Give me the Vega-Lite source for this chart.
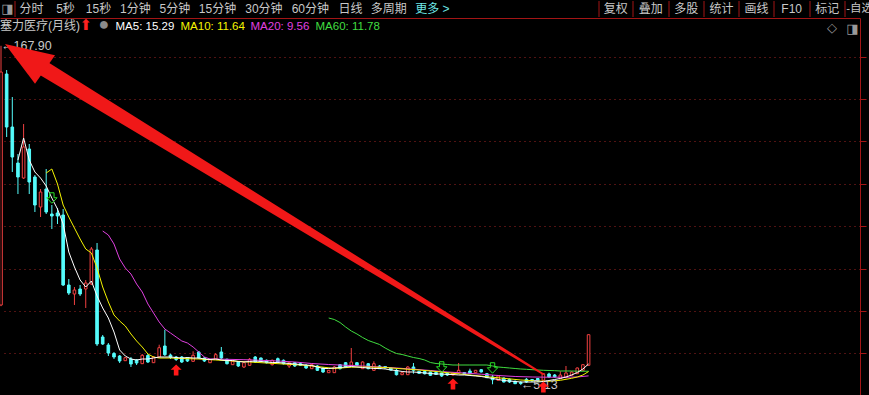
{
  "$schema": "https://vega.github.io/schema/vega-lite/v6.json",
  "background": "#000000",
  "padding": 0,
  "spacing": 0,
  "config": {
    "view": {"stroke": null},
    "font": "Liberation Sans, Noto Sans CJK SC, DejaVu Sans"
  },
  "datasets": {
    "candles": [
      {"i":0,"o":43.56,"h":167.9,"l":43.0,"c":155.33},
      {"i":1,"o":154.37,"h":156.29,"l":124.15,"c":128.94},
      {"i":2,"o":128.94,"h":143.33,"l":107.36,"c":114.55},
      {"i":3,"o":111.67,"h":115.99,"l":96.8,"c":104.96},
      {"i":4,"o":104.48,"h":130.38,"l":104.0,"c":119.35},
      {"i":5,"o":118.39,"h":120.79,"l":96.8,"c":102.56},
      {"i":6,"o":104.96,"h":105.92,"l":88.17,"c":91.53},
      {"i":7,"o":90.57,"h":99.2,"l":85.77,"c":97.76},
      {"i":8,"o":99.2,"h":108.8,"l":87.21,"c":88.17},
      {"i":9,"o":87.21,"h":91.53,"l":80.01,"c":86.25},
      {"i":10,"o":87.69,"h":90.09,"l":82.41,"c":86.25},
      {"i":11,"o":86.73,"h":89.61,"l":52.67,"c":53.15},
      {"i":12,"o":53.15,"h":56.03,"l":48.35,"c":49.31},
      {"i":13,"o":48.83,"h":52.19,"l":43.56,"c":50.75},
      {"i":14,"o":51.23,"h":53.15,"l":47.87,"c":48.83},
      {"i":15,"o":51.23,"h":55.55,"l":42.12,"c":54.11},
      {"i":16,"o":53.63,"h":71.38,"l":53.15,"c":70.42},
      {"i":17,"o":69.94,"h":73.3,"l":23.89,"c":24.85},
      {"i":18,"o":28.21,"h":29.17,"l":24.37,"c":24.85},
      {"i":19,"o":24.37,"h":25.33,"l":19.09,"c":20.53},
      {"i":20,"o":20.29,"h":21.01,"l":17.65,"c":18.61},
      {"i":21,"o":19.09,"h":19.57,"l":15.73,"c":16.69},
      {"i":22,"o":16.84,"h":18.37,"l":16.69,"c":18.28},
      {"i":23,"o":17.65,"h":18.61,"l":13.82,"c":15.25},
      {"i":24,"o":17.17,"h":17.65,"l":14.77,"c":15.73},
      {"i":25,"o":15.4,"h":20.05,"l":15.25,"c":19.43},
      {"i":26,"o":19.33,"h":20.05,"l":15.73,"c":16.21},
      {"i":27,"o":15.88,"h":19.09,"l":15.73,"c":18.61},
      {"i":28,"o":18.61,"h":24.51,"l":18.13,"c":23.07},
      {"i":29,"o":23.89,"h":31.71,"l":19.09,"c":19.72},
      {"i":30,"o":19.57,"h":20.2,"l":17.65,"c":18.37},
      {"i":31,"o":18.61,"h":19.09,"l":16.69,"c":17.41},
      {"i":32,"o":18.61,"h":19.09,"l":15.73,"c":16.21},
      {"i":33,"o":18.13,"h":18.61,"l":16.21,"c":16.69},
      {"i":34,"o":16.55,"h":21.35,"l":16.21,"c":19.43},
      {"i":35,"o":21.01,"h":21.49,"l":17.65,"c":18.13},
      {"i":36,"o":18.13,"h":18.61,"l":16.21,"c":16.69},
      {"i":37,"o":15.88,"h":17.65,"l":15.73,"c":17.51},
      {"i":38,"o":17.51,"h":20.53,"l":17.17,"c":19.72},
      {"i":39,"o":21.01,"h":23.41,"l":17.51,"c":18.13},
      {"i":40,"o":17.51,"h":17.89,"l":15.01,"c":15.4},
      {"i":41,"o":14.92,"h":16.69,"l":14.77,"c":16.55},
      {"i":42,"o":16.21,"h":16.45,"l":13.82,"c":14.3},
      {"i":43,"o":13.82,"h":16.21,"l":13.34,"c":15.88},
      {"i":44,"o":14.63,"h":18.13,"l":14.3,"c":17.51},
      {"i":45,"o":18.61,"h":19.09,"l":15.73,"c":16.21},
      {"i":46,"o":18.13,"h":18.37,"l":16.21,"c":16.55},
      {"i":47,"o":17.03,"h":17.41,"l":15.49,"c":15.88},
      {"i":48,"o":14.92,"h":17.41,"l":14.53,"c":17.03},
      {"i":49,"o":17.8,"h":18.37,"l":15.73,"c":16.21},
      {"i":50,"o":17.03,"h":17.41,"l":15.01,"c":15.4},
      {"i":51,"o":14.3,"h":15.97,"l":13.34,"c":15.88},
      {"i":52,"o":15.88,"h":16.21,"l":13.82,"c":14.3},
      {"i":53,"o":15.4,"h":15.73,"l":14.3,"c":14.63},
      {"i":54,"o":14.63,"h":15.25,"l":12.86,"c":13.34},
      {"i":55,"o":13.0,"h":15.25,"l":12.86,"c":14.92},
      {"i":56,"o":14.3,"h":14.77,"l":11.9,"c":12.23},
      {"i":57,"o":13.34,"h":13.82,"l":10.94,"c":11.42},
      {"i":58,"o":11.08,"h":12.38,"l":10.94,"c":12.23},
      {"i":59,"o":11.08,"h":14.3,"l":10.94,"c":13.82},
      {"i":60,"o":14.92,"h":15.25,"l":12.62,"c":13.0},
      {"i":61,"o":15.88,"h":16.21,"l":13.34,"c":13.82},
      {"i":62,"o":14.63,"h":22.93,"l":14.3,"c":16.21},
      {"i":63,"o":15.88,"h":16.21,"l":14.3,"c":14.63},
      {"i":64,"o":13.0,"h":16.55,"l":12.86,"c":16.21},
      {"i":65,"o":15.4,"h":15.73,"l":12.71,"c":13.0},
      {"i":66,"o":12.23,"h":16.55,"l":11.9,"c":15.4},
      {"i":67,"o":14.3,"h":14.77,"l":12.86,"c":13.0},
      {"i":68,"o":14.06,"h":14.3,"l":13.1,"c":13.34},
      {"i":69,"o":13.34,"h":13.58,"l":12.14,"c":12.38},
      {"i":70,"o":12.23,"h":12.86,"l":9.74,"c":10.12},
      {"i":71,"o":10.12,"h":11.42,"l":9.98,"c":11.08},
      {"i":72,"o":10.12,"h":14.3,"l":9.98,"c":13.82},
      {"i":73,"o":13.82,"h":15.73,"l":10.6,"c":12.23},
      {"i":74,"o":11.75,"h":11.9,"l":10.46,"c":10.79},
      {"i":75,"o":11.66,"h":11.9,"l":10.22,"c":10.6},
      {"i":76,"o":11.42,"h":11.66,"l":9.5,"c":9.83},
      {"i":77,"o":11.18,"h":11.42,"l":9.98,"c":10.22},
      {"i":78,"o":10.94,"h":11.18,"l":9.02,"c":9.5},
      {"i":79,"o":10.94,"h":11.42,"l":9.5,"c":9.98},
      {"i":80,"o":9.98,"h":11.18,"l":9.74,"c":10.94},
      {"i":81,"o":10.94,"h":15.73,"l":10.6,"c":12.23},
      {"i":82,"o":11.18,"h":11.42,"l":10.22,"c":10.46},
      {"i":83,"o":11.9,"h":13.0,"l":10.46,"c":10.6},
      {"i":84,"o":11.08,"h":12.38,"l":10.94,"c":12.23},
      {"i":85,"o":12.52,"h":12.86,"l":11.18,"c":11.42},
      {"i":86,"o":10.6,"h":10.94,"l":8.54,"c":8.68},
      {"i":87,"o":9.02,"h":9.98,"l":5.52,"c":7.72},
      {"i":88,"o":7.44,"h":9.74,"l":7.24,"c":9.5},
      {"i":89,"o":8.54,"h":8.78,"l":6.38,"c":6.62},
      {"i":90,"o":7.92,"h":8.3,"l":6.14,"c":6.62},
      {"i":91,"o":6.96,"h":7.34,"l":5.66,"c":5.8},
      {"i":92,"o":6.38,"h":7.1,"l":5.13,"c":5.9},
      {"i":93,"o":7.92,"h":8.54,"l":6.14,"c":6.62},
      {"i":94,"o":7.82,"h":8.06,"l":6.86,"c":7.1},
      {"i":95,"o":8.3,"h":8.54,"l":6.62,"c":7.1},
      {"i":96,"o":7.44,"h":10.94,"l":7.1,"c":10.6},
      {"i":97,"o":10.46,"h":11.08,"l":8.54,"c":9.02},
      {"i":98,"o":9.98,"h":10.46,"l":8.78,"c":9.02},
      {"i":99,"o":8.2,"h":11.75,"l":8.06,"c":9.98},
      {"i":100,"o":8.68,"h":14.3,"l":8.54,"c":10.94},
      {"i":101,"o":9.83,"h":11.9,"l":9.74,"c":11.42},
      {"i":102,"o":10.6,"h":13.58,"l":10.46,"c":13.34},
      {"i":103,"o":12.23,"h":15.25,"l":12.14,"c":14.92},
      {"i":104,"o":14.63,"h":29.31,"l":14.53,"c":29.31}
    ],
    "ma": [
      {"ma":"MA60","i":58,"v":37.32},{"ma":"MA60","i":59,"v":36.6},{"ma":"MA60","i":60,"v":35.16},{"ma":"MA60","i":61,"v":33.0},{"ma":"MA60","i":62,"v":31.08},{"ma":"MA60","i":63,"v":29.65},{"ma":"MA60","i":64,"v":27.97},{"ma":"MA60","i":65,"v":26.53},{"ma":"MA60","i":66,"v":25.57},{"ma":"MA60","i":67,"v":24.61},{"ma":"MA60","i":68,"v":22.93},{"ma":"MA60","i":69,"v":21.49},{"ma":"MA60","i":70,"v":20.29},{"ma":"MA60","i":71,"v":19.81},{"ma":"MA60","i":72,"v":19.09},{"ma":"MA60","i":73,"v":18.37},{"ma":"MA60","i":74,"v":17.89},{"ma":"MA60","i":75,"v":17.17},{"ma":"MA60","i":76,"v":15.97},{"ma":"MA60","i":77,"v":15.49},{"ma":"MA60","i":78,"v":15.25},{"ma":"MA60","i":79,"v":15.01},{"ma":"MA60","i":80,"v":14.77},{"ma":"MA60","i":83,"v":14.77},{"ma":"MA60","i":86,"v":14.77},{"ma":"MA60","i":87,"v":14.3},{"ma":"MA60","i":88,"v":13.82},{"ma":"MA60","i":89,"v":13.58},{"ma":"MA60","i":90,"v":13.34},{"ma":"MA60","i":91,"v":13.1},{"ma":"MA60","i":92,"v":12.86},{"ma":"MA60","i":93,"v":12.71},{"ma":"MA60","i":94,"v":12.52},{"ma":"MA60","i":95,"v":12.38},{"ma":"MA60","i":96,"v":12.23},{"ma":"MA60","i":97,"v":12.14},{"ma":"MA60","i":98,"v":12.04},{"ma":"MA60","i":99,"v":11.9},{"ma":"MA60","i":101,"v":11.9},{"ma":"MA60","i":102,"v":11.8},{"ma":"MA60","i":104,"v":11.78},
      {"ma":"MA20","i":18,"v":79.05},{"ma":"MA20","i":19,"v":77.14},{"ma":"MA20","i":20,"v":72.82},{"ma":"MA20","i":21,"v":65.62},{"ma":"MA20","i":22,"v":61.31},{"ma":"MA20","i":23,"v":58.43},{"ma":"MA20","i":24,"v":53.63},{"ma":"MA20","i":25,"v":49.79},{"ma":"MA20","i":26,"v":44.04},{"ma":"MA20","i":27,"v":39.72},{"ma":"MA20","i":28,"v":35.4},{"ma":"MA20","i":29,"v":32.04},{"ma":"MA20","i":30,"v":30.13},{"ma":"MA20","i":31,"v":28.21},{"ma":"MA20","i":32,"v":26.29},{"ma":"MA20","i":33,"v":25.33},{"ma":"MA20","i":34,"v":23.41},{"ma":"MA20","i":35,"v":21.01},{"ma":"MA20","i":36,"v":18.61},{"ma":"MA20","i":37,"v":17.65},{"ma":"MA20","i":38,"v":17.65},{"ma":"MA20","i":40,"v":17.51},{"ma":"MA20","i":43,"v":17.32},{"ma":"MA20","i":46,"v":17.03},{"ma":"MA20","i":49,"v":16.69},{"ma":"MA20","i":52,"v":16.21},{"ma":"MA20","i":55,"v":15.49},{"ma":"MA20","i":58,"v":15.01},{"ma":"MA20","i":61,"v":14.63},{"ma":"MA20","i":64,"v":14.3},{"ma":"MA20","i":67,"v":13.82},{"ma":"MA20","i":70,"v":13.34},{"ma":"MA20","i":73,"v":12.76},{"ma":"MA20","i":76,"v":12.14},{"ma":"MA20","i":79,"v":11.42},{"ma":"MA20","i":82,"v":10.94},{"ma":"MA20","i":85,"v":10.36},{"ma":"MA20","i":88,"v":9.74},{"ma":"MA20","i":91,"v":9.26},{"ma":"MA20","i":94,"v":9.02},{"ma":"MA20","i":97,"v":8.92},{"ma":"MA20","i":100,"v":8.92},{"ma":"MA20","i":102,"v":9.02},{"ma":"MA20","i":104,"v":9.56},
      {"ma":"MA10","i":8,"v":106.88},{"ma":"MA10","i":9,"v":108.8},{"ma":"MA10","i":10,"v":101.6},{"ma":"MA10","i":11,"v":91.53},{"ma":"MA10","i":12,"v":85.77},{"ma":"MA10","i":13,"v":80.49},{"ma":"MA10","i":14,"v":75.22},{"ma":"MA10","i":15,"v":70.42},{"ma":"MA10","i":16,"v":68.5},{"ma":"MA10","i":17,"v":61.31},{"ma":"MA10","i":18,"v":52.19},{"ma":"MA10","i":19,"v":45.0},{"ma":"MA10","i":20,"v":38.76},{"ma":"MA10","i":21,"v":35.88},{"ma":"MA10","i":22,"v":33.48},{"ma":"MA10","i":23,"v":29.65},{"ma":"MA10","i":24,"v":26.29},{"ma":"MA10","i":25,"v":23.41},{"ma":"MA10","i":26,"v":20.05},{"ma":"MA10","i":27,"v":18.61},{"ma":"MA10","i":28,"v":18.13},{"ma":"MA10","i":30,"v":18.13},{"ma":"MA10","i":32,"v":17.89},{"ma":"MA10","i":35,"v":17.65},{"ma":"MA10","i":38,"v":17.17},{"ma":"MA10","i":41,"v":16.69},{"ma":"MA10","i":44,"v":16.21},{"ma":"MA10","i":47,"v":15.73},{"ma":"MA10","i":50,"v":15.25},{"ma":"MA10","i":53,"v":14.77},{"ma":"MA10","i":56,"v":14.06},{"ma":"MA10","i":59,"v":13.1},{"ma":"MA10","i":62,"v":13.72},{"ma":"MA10","i":65,"v":13.82},{"ma":"MA10","i":68,"v":13.58},{"ma":"MA10","i":71,"v":12.95},{"ma":"MA10","i":74,"v":12.38},{"ma":"MA10","i":77,"v":11.66},{"ma":"MA10","i":80,"v":10.79},{"ma":"MA10","i":83,"v":9.98},{"ma":"MA10","i":86,"v":9.16},{"ma":"MA10","i":89,"v":8.39},{"ma":"MA10","i":92,"v":7.58},{"ma":"MA10","i":95,"v":7.1},{"ma":"MA10","i":97,"v":6.96},{"ma":"MA10","i":99,"v":7.44},{"ma":"MA10","i":101,"v":8.39},{"ma":"MA10","i":102,"v":9.02},{"ma":"MA10","i":103,"v":9.98},{"ma":"MA10","i":104,"v":11.64},
      {"ma":"MA5","i":3,"v":113.11},{"ma":"MA5","i":4,"v":123.67},{"ma":"MA5","i":5,"v":113.11},{"ma":"MA5","i":6,"v":107.36},{"ma":"MA5","i":7,"v":104.48},{"ma":"MA5","i":8,"v":100.64},{"ma":"MA5","i":9,"v":94.88},{"ma":"MA5","i":10,"v":89.61},{"ma":"MA5","i":11,"v":82.41},{"ma":"MA5","i":12,"v":68.98},{"ma":"MA5","i":13,"v":61.79},{"ma":"MA5","i":14,"v":55.55},{"ma":"MA5","i":15,"v":52.19},{"ma":"MA5","i":16,"v":55.07},{"ma":"MA5","i":17,"v":47.87},{"ma":"MA5","i":18,"v":42.12},{"ma":"MA5","i":19,"v":37.32},{"ma":"MA5","i":20,"v":30.6},{"ma":"MA5","i":21,"v":21.97},{"ma":"MA5","i":22,"v":19.09},{"ma":"MA5","i":23,"v":17.65},{"ma":"MA5","i":24,"v":17.17},{"ma":"MA5","i":25,"v":17.65},{"ma":"MA5","i":26,"v":17.65},{"ma":"MA5","i":27,"v":18.13},{"ma":"MA5","i":28,"v":18.61},{"ma":"MA5","i":29,"v":18.61},{"ma":"MA5","i":30,"v":18.61},{"ma":"MA5","i":31,"v":18.37},{"ma":"MA5","i":32,"v":18.13},{"ma":"MA5","i":33,"v":18.37},{"ma":"MA5","i":34,"v":18.13},{"ma":"MA5","i":35,"v":18.13},{"ma":"MA5","i":36,"v":17.65},{"ma":"MA5","i":37,"v":17.41},{"ma":"MA5","i":38,"v":17.65},{"ma":"MA5","i":39,"v":17.17},{"ma":"MA5","i":40,"v":16.93},{"ma":"MA5","i":41,"v":16.93},{"ma":"MA5","i":42,"v":16.45},{"ma":"MA5","i":43,"v":16.21},{"ma":"MA5","i":44,"v":16.45},{"ma":"MA5","i":45,"v":16.69},{"ma":"MA5","i":46,"v":16.45},{"ma":"MA5","i":47,"v":16.21},{"ma":"MA5","i":48,"v":15.97},{"ma":"MA5","i":49,"v":15.97},{"ma":"MA5","i":50,"v":15.73},{"ma":"MA5","i":51,"v":15.49},{"ma":"MA5","i":52,"v":15.25},{"ma":"MA5","i":53,"v":15.01},{"ma":"MA5","i":54,"v":14.77},{"ma":"MA5","i":55,"v":14.53},{"ma":"MA5","i":56,"v":13.82},{"ma":"MA5","i":57,"v":13.1},{"ma":"MA5","i":58,"v":13.1},{"ma":"MA5","i":59,"v":13.34},{"ma":"MA5","i":60,"v":13.58},{"ma":"MA5","i":61,"v":13.82},{"ma":"MA5","i":62,"v":14.06},{"ma":"MA5","i":63,"v":13.82},{"ma":"MA5","i":64,"v":13.58},{"ma":"MA5","i":65,"v":13.34},{"ma":"MA5","i":66,"v":13.1},{"ma":"MA5","i":67,"v":13.1},{"ma":"MA5","i":68,"v":12.86},{"ma":"MA5","i":69,"v":12.38},{"ma":"MA5","i":70,"v":12.14},{"ma":"MA5","i":71,"v":11.66},{"ma":"MA5","i":72,"v":11.42},{"ma":"MA5","i":73,"v":11.42},{"ma":"MA5","i":74,"v":11.18},{"ma":"MA5","i":75,"v":10.94},{"ma":"MA5","i":76,"v":10.7},{"ma":"MA5","i":77,"v":10.46},{"ma":"MA5","i":78,"v":10.46},{"ma":"MA5","i":79,"v":10.22},{"ma":"MA5","i":80,"v":10.22},{"ma":"MA5","i":81,"v":9.98},{"ma":"MA5","i":82,"v":9.98},{"ma":"MA5","i":83,"v":9.74},{"ma":"MA5","i":84,"v":9.5},{"ma":"MA5","i":85,"v":9.26},{"ma":"MA5","i":86,"v":8.78},{"ma":"MA5","i":87,"v":8.3},{"ma":"MA5","i":88,"v":7.82},{"ma":"MA5","i":89,"v":7.34},{"ma":"MA5","i":90,"v":7.1},{"ma":"MA5","i":91,"v":6.86},{"ma":"MA5","i":92,"v":6.62},{"ma":"MA5","i":93,"v":6.62},{"ma":"MA5","i":94,"v":6.62},{"ma":"MA5","i":95,"v":6.62},{"ma":"MA5","i":96,"v":6.86},{"ma":"MA5","i":97,"v":7.34},{"ma":"MA5","i":98,"v":7.82},{"ma":"MA5","i":99,"v":8.3},{"ma":"MA5","i":100,"v":9.02},{"ma":"MA5","i":101,"v":9.98},{"ma":"MA5","i":102,"v":11.18},{"ma":"MA5","i":103,"v":12.86},{"ma":"MA5","i":104,"v":15.29}
    ],
    "signals": [
      {"kind":"up","i":31,"p":12.38},{"kind":"up","i":80,"p":5.66},{"kind":"up","i":96,"p":4.22},
      {"kind":"down","i":9,"p":94.88},{"kind":"down","i":78,"p":13.82},{"kind":"down","i":87,"p":13.34}
    ],
    "extremes": [
      {"i":0,"p":167.9,"label":"←167.90"},
      {"i":92,"p":5.13,"label":"←5.13"}
    ],
    "bigArrow": [
      {"i":95.93,"p":10.46,"t":0},
      {"i":7.43,"p":157.25,"t":1}
    ],
    "arrowHead": [
      {"i":7.79,"p":156.53}
    ],
    "icons": [
      {"icon":"◇","i":147.1,"p":176.4},
      {"icon":"◨","i":150.7,"p":176.2}
    ]
  },
  "vconcat": [
    {
      "hconcat": [
        {
          "width": 15, "height": 16,
          "data": {"values": [{"item": "icon"}]},
          "layer": [
            {"mark": {"type": "text", "text": "◨", "color": "#9a9a9a", "fontSize": 13, "font": "DejaVu Sans"}, "encoding": {"x": {"field": "item", "type": "nominal", "scale": {"type": "band", "paddingInner": 0, "paddingOuter": 0}, "axis": null}}},
            {"mark": {"type": "rule", "color": "#a31515", "strokeWidth": 1}, "encoding": {"x": {"field": "item", "type": "nominal", "bandPosition": 1, "axis": null}}}
          ]
        },
        {"width": 33, "height": 16, "data": {"values": [{"item": "分时"}]}, "mark": {"type": "text", "fontSize": 12, "color": "#c8c8c8"}, "encoding": {"text": {"field": "item"}}},
        {"width": 35, "height": 16, "data": {"values": [{"item": "5秒"}]}, "mark": {"type": "text", "fontSize": 12, "color": "#c8c8c8"}, "encoding": {"text": {"field": "item"}}},
        {"width": 31, "height": 16, "data": {"values": [{"item": "15秒"}]}, "mark": {"type": "text", "fontSize": 12, "color": "#c8c8c8"}, "encoding": {"text": {"field": "item"}}},
        {"width": 42.6, "height": 16, "data": {"values": [{"item": "1分钟"}]}, "mark": {"type": "text", "fontSize": 12, "color": "#c8c8c8"}, "encoding": {"text": {"field": "item"}}},
        {"width": 35.8, "height": 16, "data": {"values": [{"item": "5分钟"}]}, "mark": {"type": "text", "fontSize": 12, "color": "#c8c8c8"}, "encoding": {"text": {"field": "item"}}},
        {"width": 49, "height": 16, "data": {"values": [{"item": "15分钟"}]}, "mark": {"type": "text", "fontSize": 12, "color": "#c8c8c8"}, "encoding": {"text": {"field": "item"}}},
        {"width": 43.8, "height": 16, "data": {"values": [{"item": "30分钟"}]}, "mark": {"type": "text", "fontSize": 12, "color": "#c8c8c8"}, "encoding": {"text": {"field": "item"}}},
        {"width": 48.6, "height": 16, "data": {"values": [{"item": "60分钟"}]}, "mark": {"type": "text", "fontSize": 12, "color": "#c8c8c8"}, "encoding": {"text": {"field": "item"}}},
        {"width": 31, "height": 16, "data": {"values": [{"item": "日线"}]}, "mark": {"type": "text", "fontSize": 12, "color": "#c8c8c8"}, "encoding": {"text": {"field": "item"}}},
        {"width": 45.4, "height": 16, "data": {"values": [{"item": "多周期"}]}, "mark": {"type": "text", "fontSize": 12, "color": "#c8c8c8"}, "encoding": {"text": {"field": "item"}}},
        {"width": 40.6, "height": 16, "data": {"values": [{"item": "更多 >"}]}, "mark": {"type": "text", "fontSize": 12, "color": "#6ee6e6"}, "encoding": {"text": {"field": "item"}}},
        {"width": 145.2, "height": 16, "data": {"values": [{}]}, "mark": {"type": "text", "text": ""}},
        {
          "width": 33.6, "height": 16, "data": {"values": [{"item": "复权"}]},
          "layer": [
            {"mark": {"type": "rule", "color": "#a31515", "strokeWidth": 1}, "encoding": {"x": {"field": "item", "type": "nominal", "bandPosition": 0, "scale": {"type": "band", "paddingInner": 0, "paddingOuter": 0}, "axis": null}}},
            {"mark": {"type": "text", "fontSize": 12, "color": "#c8c8c8"}, "encoding": {"text": {"field": "item"}}}
          ]
        },
        {
          "width": 35.4, "height": 16, "data": {"values": [{"item": "叠加"}]},
          "layer": [
            {"mark": {"type": "rule", "color": "#a31515", "strokeWidth": 1}, "encoding": {"x": {"field": "item", "type": "nominal", "bandPosition": 0, "scale": {"type": "band", "paddingInner": 0, "paddingOuter": 0}, "axis": null}}},
            {"mark": {"type": "text", "fontSize": 12, "color": "#c8c8c8"}, "encoding": {"text": {"field": "item"}}}
          ]
        },
        {
          "width": 34.6, "height": 16, "data": {"values": [{"item": "多股"}]},
          "layer": [
            {"mark": {"type": "rule", "color": "#a31515", "strokeWidth": 1}, "encoding": {"x": {"field": "item", "type": "nominal", "bandPosition": 0, "scale": {"type": "band", "paddingInner": 0, "paddingOuter": 0}, "axis": null}}},
            {"mark": {"type": "text", "fontSize": 12, "color": "#c8c8c8"}, "encoding": {"text": {"field": "item"}}}
          ]
        },
        {
          "width": 35, "height": 16, "data": {"values": [{"item": "统计"}]},
          "layer": [
            {"mark": {"type": "rule", "color": "#a31515", "strokeWidth": 1}, "encoding": {"x": {"field": "item", "type": "nominal", "bandPosition": 0, "scale": {"type": "band", "paddingInner": 0, "paddingOuter": 0}, "axis": null}}},
            {"mark": {"type": "text", "fontSize": 12, "color": "#c8c8c8"}, "encoding": {"text": {"field": "item"}}}
          ]
        },
        {
          "width": 35, "height": 16, "data": {"values": [{"item": "画线"}]},
          "layer": [
            {"mark": {"type": "rule", "color": "#a31515", "strokeWidth": 1}, "encoding": {"x": {"field": "item", "type": "nominal", "bandPosition": 0, "scale": {"type": "band", "paddingInner": 0, "paddingOuter": 0}, "axis": null}}},
            {"mark": {"type": "text", "fontSize": 12, "color": "#c8c8c8"}, "encoding": {"text": {"field": "item"}}}
          ]
        },
        {
          "width": 35.4, "height": 16, "data": {"values": [{"item": "F10"}]},
          "layer": [
            {"mark": {"type": "rule", "color": "#a31515", "strokeWidth": 1}, "encoding": {"x": {"field": "item", "type": "nominal", "bandPosition": 0, "scale": {"type": "band", "paddingInner": 0, "paddingOuter": 0}, "axis": null}}},
            {"mark": {"type": "text", "fontSize": 12, "color": "#c8c8c8"}, "encoding": {"text": {"field": "item"}}}
          ]
        },
        {
          "width": 34.6, "height": 16, "data": {"values": [{"item": "标记"}]},
          "layer": [
            {"mark": {"type": "rule", "color": "#a31515", "strokeWidth": 1}, "encoding": {"x": {"field": "item", "type": "nominal", "bandPosition": 0, "scale": {"type": "band", "paddingInner": 0, "paddingOuter": 0}, "axis": null}}},
            {"mark": {"type": "text", "fontSize": 12, "color": "#c8c8c8"}, "encoding": {"text": {"field": "item"}}}
          ]
        },
        {
          "width": 29.4, "height": 16, "data": {"values": [{"item": "-自选"}]},
          "layer": [
            {"mark": {"type": "rule", "color": "#a31515", "strokeWidth": 1}, "encoding": {"x": {"field": "item", "type": "nominal", "bandPosition": 0, "scale": {"type": "band", "paddingInner": 0, "paddingOuter": 0}, "axis": null}}},
            {"mark": {"type": "text", "fontSize": 11.5, "color": "#c8c8c8"}, "encoding": {"text": {"field": "item"}}}
          ]
        }
      ],
      "spacing": 0,
      "bounds": "flush"
    },
    {
      "width": 860,
      "height": 379,
      "encoding": {
        "x": {
          "field": "i", "type": "quantitative",
          "scale": {"domain": [-0.177, 152.04], "nice": false, "zero": false, "padding": 0},
          "axis": {"orient": "top", "domain": true, "domainColor": "#a31515", "ticks": false, "labels": false, "grid": false, "title": null}
        }
      },
      "layer": [
        {
          "data": {"name": "candles"},
          "mark": {"type": "rule", "strokeWidth": 1, "clip": true},
          "encoding": {
            "y": {
              "field": "l", "type": "quantitative",
              "scale": {"domain": [-0.576, 181.24], "nice": false, "zero": false, "padding": 0},
              "axis": {
                "orient": "right",
                "values": [20.335, 40.67, 61.005, 81.34, 101.675, 122.01, 142.345, 162.68],
                "labels": false, "title": null,
                "domain": true, "domainColor": "#a31515",
                "ticks": true, "tickColor": "#a31515", "tickSize": 6,
                "grid": true, "gridColor": "#a02424", "gridDash": [1, 4], "gridWidth": 1,
                "minExtent": 0
              }
            },
            "y2": {"field": "h"},
            "color": {"condition": {"test": "datum.c >= datum.o", "value": "#f04040"}, "value": "#54fcfc"}
          }
        },
        {
          "data": {"name": "candles"},
          "mark": {"type": "bar", "width": 2.6, "strokeWidth": 1, "clip": true},
          "encoding": {
            "y": {"field": "o", "type": "quantitative", "scale": {"domain": [-0.576, 181.24], "nice": false, "zero": false, "padding": 0}},
            "y2": {"field": "c"},
            "fill": {"condition": {"test": "datum.c >= datum.o", "value": "#000000"}, "value": "#54fcfc"},
            "stroke": {"condition": {"test": "datum.c >= datum.o", "value": "#f04040"}, "value": "#54fcfc"}
          }
        },
        {
          "data": {"name": "ma"},
          "mark": {"type": "line", "strokeWidth": 1, "clip": true},
          "encoding": {
            "y": {"field": "v", "type": "quantitative", "scale": {"domain": [-0.576, 181.24], "nice": false, "zero": false, "padding": 0}},
            "order": {"field": "i", "type": "quantitative"},
            "stroke": {
              "field": "ma", "type": "nominal",
              "scale": {"domain": ["up", "menu", "MA5", "MA10", "MA20", "MA60"], "range": ["#ff2020", "#8a8a8a", "#ffffff", "#f5f500", "#e040e0", "#40dd40"]},
              "legend": {
                "orient": "none", "legendX": 0, "legendY": 18,
                "direction": "horizontal",
                "title": "塞力医疗(月线)",
                "titleOrient": "left", "titleColor": "#c8c8c8", "titleFontSize": 12, "titleFontWeight": "normal",
                "titleFont": "Liberation Sans, Noto Sans CJK SC", "titlePadding": 0.01,
                "labelFontSize": 11.5, "labelFont": "Liberation Sans, DejaVu Sans", "labelLimit": 200,
                "symbolType": "circle", "symbolSize": 0.01, "symbolStrokeWidth": 0.01, "symbolOpacity": 0,
                "labelOffset": -12, "columnPadding": 5, "padding": 0,
                "labelExpr": "datum.label == 'up' ? '⬆' : datum.label == 'menu' ? '●' : datum.label == 'MA5' ? 'MA5: 15.29' : datum.label == 'MA10' ? 'MA10: 11.64' : datum.label == 'MA20' ? 'MA20: 9.56' : 'MA60: 11.78'",
                "encode": {
                  "labels": {
                    "update": {
                      "fill": {"scale": "stroke", "field": "value"},
                      "fontSize": {"signal": "datum.value === 'menu' ? 18 : datum.value === 'up' ? 15 : 11.5"}
                    }
                  }
                }
              }
            }
          }
        },
        {
          "data": {"name": "extremes"},
          "mark": {"type": "text", "align": "left", "baseline": "middle", "fontSize": 12.5, "color": "#c8c8c8"},
          "encoding": {
            "y": {"field": "p", "type": "quantitative", "scale": {"domain": [-0.576, 181.24], "nice": false, "zero": false, "padding": 0}},
            "text": {"field": "label"}
          }
        },
        {
          "data": {"name": "bigArrow"},
          "mark": {"type": "trail", "color": "#f01818", "clip": true},
          "encoding": {
            "y": {"field": "p", "type": "quantitative", "scale": {"domain": [-0.576, 181.24], "nice": false, "zero": false, "padding": 0}},
            "order": {"field": "t", "type": "quantitative"},
            "size": {"field": "t", "type": "quantitative", "scale": {"domain": [0, 1], "range": [2, 15]}, "legend": null}
          }
        },
        {
          "data": {"name": "arrowHead"},
          "mark": {"type": "point", "shape": "M-1,-0.6375L0.25,-0.355L-0.25,0.355Z", "size": 6400, "filled": true, "color": "#f01818", "strokeWidth": 0, "opacity": 1},
          "encoding": {
            "y": {"field": "p", "type": "quantitative", "scale": {"domain": [-0.576, 181.24], "nice": false, "zero": false, "padding": 0}}
          }
        },
        {
          "data": {"name": "signals"},
          "transform": [{"filter": "datum.kind === 'up'"}],
          "mark": {"type": "point", "shape": "M0,-1L1,-0.05L0.42,-0.05L0.42,1L-0.42,1L-0.42,-0.05L-1,-0.05Z", "size": 121, "filled": true, "color": "#ff1818", "strokeWidth": 0, "opacity": 1},
          "encoding": {
            "y": {"field": "p", "type": "quantitative", "scale": {"domain": [-0.576, 181.24], "nice": false, "zero": false, "padding": 0}}
          }
        },
        {
          "data": {"name": "signals"},
          "transform": [{"filter": "datum.kind === 'down'"}],
          "mark": {"type": "point", "shape": "M-0.42,-1L0.42,-1L0.42,-0.05L1,-0.05L0,1L-1,-0.05L-0.42,-0.05Z", "size": 110, "filled": false, "color": "#28e028", "strokeWidth": 1, "opacity": 1},
          "encoding": {
            "y": {"field": "p", "type": "quantitative", "scale": {"domain": [-0.576, 181.24], "nice": false, "zero": false, "padding": 0}}
          }
        },
        {
          "data": {"name": "icons"},
          "mark": {"type": "text", "fontSize": 13, "font": "DejaVu Sans", "color": "#9a9a9a"},
          "encoding": {
            "y": {"field": "p", "type": "quantitative", "scale": {"domain": [-0.576, 181.24], "nice": false, "zero": false, "padding": 0}},
            "text": {"field": "icon"}
          }
        }
      ]
    }
  ]
}
